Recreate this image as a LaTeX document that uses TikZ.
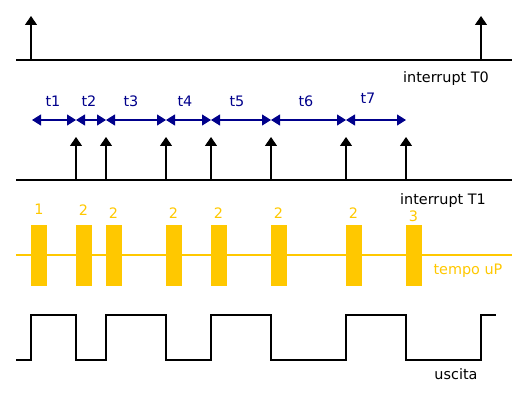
\documentclass[tikz,border=0pt]{standalone}
\usepackage{fontspec}
\setmainfont{DejaVu Sans}
\usetikzlibrary{arrows.meta}
\definecolor{uPyellow}{RGB}{255,200,0}
\definecolor{dimblue}{RGB}{0,0,139}
\begin{document}
\begin{tikzpicture}[x=1pt,y=-1pt,
  impulse/.style={-{Triangle[width=12pt,length=9pt]},line width=1.3pt},
  dim/.style={{Triangle[width=11pt,length=9pt]}-{Triangle[width=11pt,length=9pt]},dimblue,line width=1.1pt},
  lbl/.style={font=\fontsize{14.4}{17}\selectfont,inner sep=0pt,anchor=base}]
\useasboundingbox (0,0) rectangle (528,395);
% interrupt T0
\draw[line width=1.3pt] (16,60) -- (512,60);
\draw[impulse] (31,60) -- (31,16);
\draw[impulse] (481,60) -- (481,16);
\node[lbl] (labT0) at (446,83) {interrupt T0};
% intervalli
\foreach \a/\b in {32/76,76/106,106/166,166/211,211/271,271/346,346/406}
  \draw[dim] (\a,120) -- (\b,120);
\node[lbl,dimblue] (t1) at (53,107) {t1};
\node[lbl,dimblue] (t2) at (89,107) {t2};
\node[lbl,dimblue] (t3) at (131,107) {t3};
\node[lbl,dimblue] (t4) at (185,107) {t4};
\node[lbl,dimblue] (t5) at (237,107) {t5};
\node[lbl,dimblue] (t6) at (306,107) {t6};
\node[lbl,dimblue] (t7) at (368,104) {t7};
% interrupt T1
\draw[line width=1.3pt] (16,180) -- (512,180);
\foreach \x in {76,106,166,211,271,346,406}
  \draw[impulse] (\x,180) -- (\x,137);
\node[lbl] (labT1) at (443,205) {interrupt T1};
% tempo uP
\draw[uPyellow,line width=1.5pt] (16,255) -- (512,255);
\foreach \x in {31,76,106,166,211,271,346,406}
  \fill[uPyellow] (\x,225) rectangle ++(16,61);
\node[lbl,uPyellow] (n1) at (39,215) {1};
\node[lbl,uPyellow] (n2) at (83.5,216) {2};
\node[lbl,uPyellow] (n3) at (113.5,219) {2};
\node[lbl,uPyellow] (n4) at (173.5,219) {2};
\node[lbl,uPyellow] (n5) at (218.5,219) {2};
\node[lbl,uPyellow] (n6) at (278.5,219) {2};
\node[lbl,uPyellow] (n7) at (353.5,219) {2};
\node[lbl,uPyellow] (n8) at (413.5,222) {3};
\node[lbl,uPyellow] (labuP) at (468,275) {tempo uP};
% uscita
\draw[line width=1.3pt] (16,360) -- (31,360) -- (31,315) -- (76,315) -- (76,360)
  -- (106,360) -- (106,315) -- (166,315) -- (166,360) -- (211,360) -- (211,315)
  -- (271,315) -- (271,360) -- (346,360) -- (346,315) -- (406,315) -- (406,360)
  -- (481,360) -- (481,315) -- (496,315);
\node[lbl] (labout) at (456,380) {uscita};
\end{tikzpicture}
\end{document}
